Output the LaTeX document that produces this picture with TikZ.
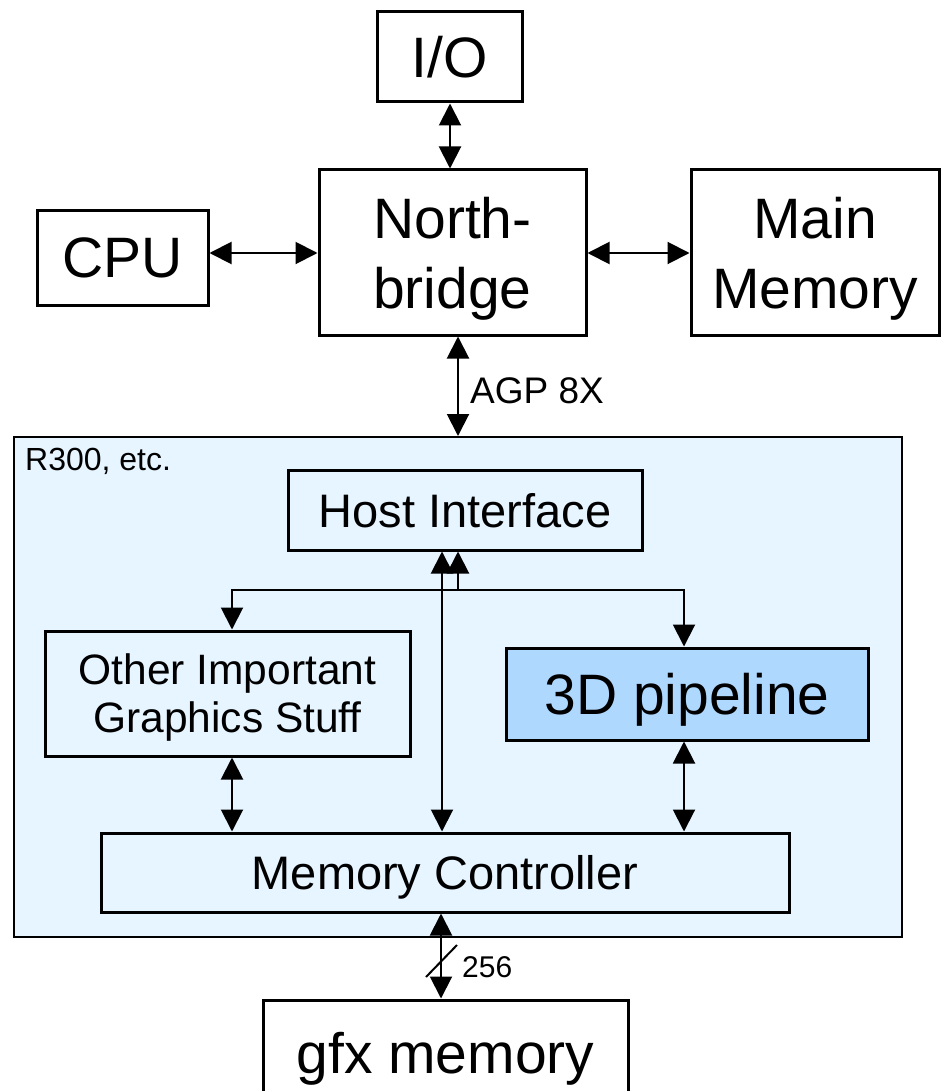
\documentclass[tikz,border=0pt]{standalone}
\usepackage{fontspec}
\setmainfont{Liberation Sans}
\usetikzlibrary{arrows.meta}
\definecolor{chipfill}{RGB}{230,245,255}
\definecolor{pipefill}{RGB}{175,216,255}

\begin{document}
\begin{tikzpicture}[x=1pt,y=-1pt,
  box/.style={draw, line width=3pt, rectangle, inner sep=0pt, align=center, fill=white, text depth=0pt},
  bigtext/.style={font=\fontsize{57}{70}\selectfont},
  midtext/.style={font=\fontsize{47}{55}\selectfont},
  smalltext/.style={font=\fontsize{42.5}{48}\selectfont},
  tip/.tip={Triangle[length=22pt,width=22pt]},
  link/.style={line width=2pt, tip-tip},
  feed/.style={line width=2pt, -tip},
  label/.style={inner sep=0pt, anchor=base west}
]
\useasboundingbox (0,0) rectangle (941,1091);

% graphics chip outline
\node[draw, line width=2pt, fill=chipfill, minimum width=888pt, minimum height=500pt, inner sep=0pt] (chip) at (458,687) {};
\node[label, font=\fontsize{32}{38}\selectfont] (chipname) at (25,470) {R300, etc.};

% system blocks
\node[box, bigtext, minimum width=145pt, minimum height=90pt] (io) at (449.5,57) {I/O};
\node[box, bigtext, minimum width=267pt, minimum height=165pt] (nb) at (452.5,252.5) {North-\\bridge};
\node[box, bigtext, minimum width=171pt, minimum height=94pt] (cpu) at (122.5,258) {CPU};
\node[box, bigtext, minimum width=248pt, minimum height=165pt] (mm) at (815,252.5) {Main\\Memory};

% blocks inside the chip
\node[box, midtext, fill=chipfill, minimum width=354pt, minimum height=80pt] (hi) at (465,510) {Host Interface};
\node[box, smalltext, fill=chipfill, minimum width=365pt, minimum height=125pt] (other) at (227.5,693.5) {Other Important\\Graphics Stuff};
\node[box, bigtext, fill=pipefill, minimum width=362pt, minimum height=92pt] (pipe) at (687,694) {3D pipeline};
\node[box, midtext, fill=chipfill, minimum width=688pt, minimum height=79pt] (mc) at (445,872.5) {Memory Controller};

% local graphics memory
\node[box, bigtext, minimum width=365pt, minimum height=106pt] (gfx) at (445.5,1053) {gfx memory};

% system buses
\draw[link] (450,0 |- io.south) -- (450,0 |- nb.north);
\draw[link] (cpu.east |- 0,253) -- (nb.west |- 0,253);
\draw[link] (nb.east |- 0,253) -- (mm.west |- 0,253);
\draw[link] (458,0 |- nb.south) -- (458,0 |- chip.north);
\node[label, font=\fontsize{37}{44}\selectfont] (agp) at (470,403) {AGP 8X};

% internal buses
\coordinate (busL) at (232,590);
\coordinate (busR) at (684,590);
\coordinate (busJ) at (458,590);
\draw[link] (232,0 |- other.north) -- (busL) -- (busR) -- (684,0 |- pipe.north);
\draw[feed] (busJ) -- (458,0 |- hi.south);
\draw[link] (442,0 |- hi.south) -- (442,0 |- mc.north);
\draw[link] (232,0 |- other.south) -- (232,0 |- mc.north);
\draw[link] (684,0 |- pipe.south) -- (684,0 |- mc.north);

% memory bus, 256 bits wide
\draw[link] (441,0 |- mc.south) -- (441,0 |- gfx.north);
\draw[line width=2pt] (426,977) -- (457,945);
\node[label, font=\fontsize{30}{36}\selectfont] (width) at (462,977) {256};
\end{tikzpicture}
\end{document}
